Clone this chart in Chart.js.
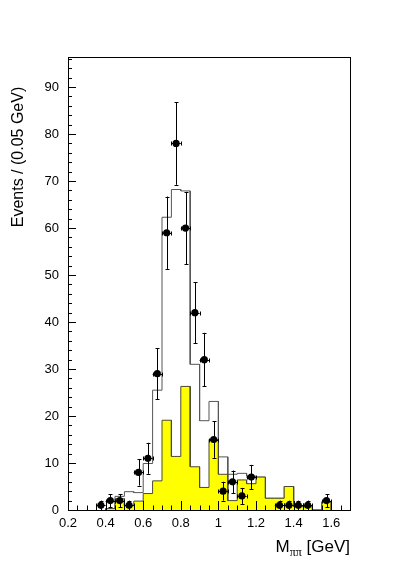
<!DOCTYPE html>
<html lang="en">
<head>
<meta charset="UTF-8">
<title>M(pipi) distribution</title>
<script src="https://cdn.jsdelivr.net/npm/chart.js"></script>
<style>
	html, body {
		margin: 0;
		padding: 0;
		background: #fff;
	}
	#wrap {
		position: relative;
		width: 397px;
		height: 567px;
	}
</style>
</head>
<body>
<div id="wrap"><canvas id="massChart" width="397" height="567"></canvas></div>

<script>
	// histogram bins (low edge, GeV), 0.05 GeV wide
	const binLow = [0.40, 0.45, 0.50, 0.55, 0.60, 0.65, 0.70, 0.75, 0.80, 0.85, 0.90, 0.95,
		1.00, 1.05, 1.10, 1.15, 1.20, 1.25, 1.30, 1.35, 1.40, 1.45, 1.50, 1.55];
	const binWidth = 0.05;

	// open histogram (total)
	const totalHist = [0.3, 2.9, 3.9, 3.7, 9.9, 25.5, 62.3, 68.2, 67.9, 31.0, 19.0, 23.1,
		11.3, 7.6, 7.8, 7.2, 7.0, 2.5, 2.5, 5.0, 0.7, 0.7, 0, 1.7];
	// yellow filled histogram
	const yellowHist = [0.3, 2.4, 0.9, 1.9, 3.5, 6.2, 19.1, 11.4, 26.3, 9.2, 4.8, 15.0,
		7.6, 2.0, 6.4, 5.6, 7.0, 2.5, 2.5, 5.0, 0.7, 0.7, 0, 1.7];

	// data points
	const dataX = [0.375, 0.425, 0.475, 0.525, 0.575, 0.625, 0.675, 0.725, 0.775, 0.825, 0.875,
		0.925, 0.975, 1.025, 1.075, 1.125, 1.175, 1.325, 1.375, 1.425, 1.475, 1.575];
	const dataY = [1, 2, 2, 1, 8, 11, 29, 59, 78, 60, 42, 32, 15, 4, 6, 3, 7, 1, 1, 1, 1, 2];
	const dataErr = [1, 1.4, 1.4, 1, 2.8, 3.3, 5.4, 7.7, 8.8, 7.7, 6.5, 5.7, 3.9, 2, 2.4, 1.7,
		2.6, 1, 1, 1, 1, 1.4];

	const xTicks = [0.2, 0.4, 0.6, 0.8, 1.0, 1.2, 1.4, 1.6];
	const yTicks = [0, 10, 20, 30, 40, 50, 60, 70, 80, 90];

	const FONT = "'Liberation Sans', Arial, sans-serif";

	// outline of a histogram as a list of corner points
	function histPoints(values) {
		const pts = [{x: binLow[0], y: 0}];
		values.forEach((v, i) => {
			pts.push({x: binLow[i], y: v});
			pts.push({x: binLow[i] + binWidth, y: v});
		});
		pts.push({x: binLow[binLow.length - 1] + binWidth, y: 0});
		return pts;
	}

	const points = dataX.map((x, i) => ({x: x, y: dataY[i]}));

	// frame + ROOT style inner ticks
	const framePlugin = {
		id: 'frame',
		afterDatasetsDraw(chart) {
			const {ctx, chartArea: a, scales: {x, y}} = chart;
			ctx.save();
			ctx.strokeStyle = '#000';
			ctx.lineWidth = 1;
			ctx.beginPath();
			// x ticks: minor every 0.05, major every 0.2
			for (let k = 0; k <= 30; k++) {
				const v = 0.2 + k * 0.05;
				const px = Math.round(x.getPixelForValue(v)) + 0.5;
				const len = (k % 4 === 0) ? 9 : 4.5;
				ctx.moveTo(px, a.bottom);
				ctx.lineTo(px, a.bottom - len);
			}
			// y ticks: minor every 2, major every 10
			for (let k = 0; k <= 48; k++) {
				const v = k * 2;
				const py = Math.round(y.getPixelForValue(v)) + 0.5;
				const len = (k % 5 === 0) ? 8 : 4;
				ctx.moveTo(a.left, py);
				ctx.lineTo(a.left + len, py);
			}
			ctx.stroke();
			ctx.strokeRect(Math.round(a.left) + 0.5, Math.round(a.top) + 0.5,
				Math.round(a.right - a.left), Math.round(a.bottom - a.top));
			ctx.restore();
		}
	};

	// error bars for the data points
	const errorBarPlugin = {
		id: 'errorBars',
		afterDatasetsDraw(chart) {
			const {ctx, scales: {x, y}} = chart;
			ctx.save();
			ctx.strokeStyle = '#000';
			ctx.lineWidth = 1;
			ctx.beginPath();
			dataX.forEach((xv, i) => {
				const px = Math.round(x.getPixelForValue(xv)) + 0.5;
				const py = Math.round(y.getPixelForValue(dataY[i])) + 0.5;
				const yTop = y.getPixelForValue(Math.min(dataY[i] + dataErr[i], y.max));
				const yBot = y.getPixelForValue(Math.max(dataY[i] - dataErr[i], 0));
				const xl = x.getPixelForValue(xv - binWidth / 2);
				const xr = x.getPixelForValue(xv + binWidth / 2);
				ctx.moveTo(px, yTop); ctx.lineTo(px, yBot);
				ctx.moveTo(px - 2, Math.round(yTop) + 0.5); ctx.lineTo(px + 2, Math.round(yTop) + 0.5);
				if (dataY[i] - dataErr[i] > 0) {
					ctx.moveTo(px - 2, Math.round(yBot) + 0.5); ctx.lineTo(px + 2, Math.round(yBot) + 0.5);
				}
				ctx.moveTo(xl, py); ctx.lineTo(xr, py);
				ctx.moveTo(Math.round(xl) + 0.5, py - 2); ctx.lineTo(Math.round(xl) + 0.5, py + 2);
				ctx.moveTo(Math.round(xr) + 0.5, py - 2); ctx.lineTo(Math.round(xr) + 0.5, py + 2);
			});
			ctx.stroke();
			ctx.restore();
		}
	};

	// axis titles
	const titlePlugin = {
		id: 'titles',
		afterDraw(chart) {
			const ctx = chart.ctx;
			ctx.save();
			ctx.fillStyle = '#000';
			// y title
			ctx.translate(23, 157);
			ctx.rotate(-Math.PI / 2);
			ctx.font = '16px ' + FONT;
			ctx.textAlign = 'center';
			ctx.textBaseline = 'alphabetic';
			ctx.fillText('Events / (0.05 GeV)', 0, 0);
			ctx.restore();

			// x title: M_ππ [GeV], right aligned to axis end
			ctx.save();
			ctx.fillStyle = '#000';
			ctx.textBaseline = 'alphabetic';
			const bigFont = '17px ' + FONT;
			const subFont = '12px "Liberation Serif", serif';
			ctx.font = bigFont;
			const wM = ctx.measureText('M').width;
			const wRest = ctx.measureText(' [GeV]').width;
			ctx.font = subFont;
			const wSub = ctx.measureText('ππ').width;
			let xPos = chart.chartArea.right - (wM + wSub + wRest);
			const base = 552;
			ctx.font = bigFont;
			ctx.fillText('M', xPos, base);
			xPos += wM;
			ctx.font = subFont;
			ctx.fillText('ππ', xPos, base + 4);
			xPos += wSub;
			ctx.font = bigFont;
			ctx.fillText(' [GeV]', xPos, base);
			ctx.restore();
		}
	};

	new Chart(document.getElementById('massChart'), {
		type: 'scatter',
		data: {
			datasets: [
				{
					label: 'Data',
					data: points,
					pointRadius: 3.6,
					pointHoverRadius: 3.6,
					backgroundColor: '#000',
					borderColor: '#000',
					borderWidth: 0,
					order: 0
				},
				{
					type: 'line',
					label: 'Yellow',
					data: histPoints(yellowHist),
					borderColor: '#4a4a30',
					borderWidth: 1,
					backgroundColor: '#ffff00',
					fill: 'origin',
					pointRadius: 0,
					tension: 0,
					order: 1
				},
				{
					type: 'line',
					label: 'Total',
					data: histPoints(totalHist),
					borderColor: '#555',
					borderWidth: 1,
					fill: false,
					pointRadius: 0,
					tension: 0,
					order: 2
				}
			]
		},
		options: {
			responsive: false,
			animation: false,
			events: [],
			layout: {padding: {top: 57, right: 47, left: 0, bottom: 0}},
			plugins: {legend: {display: false}, tooltip: {enabled: false}},
			scales: {
				x: {
					type: 'linear',
					min: 0.2,
					max: 1.7,
					grid: {display: false, drawTicks: false},
					border: {display: false},
					afterBuildTicks: s => { s.ticks = xTicks.map(v => ({value: v})); },
					afterFit: s => { s.height = 57; },
					ticks: {
						autoSkip: false,
						maxRotation: 0,
						padding: 6,
						color: '#000',
						font: {family: FONT, size: 13},
						callback: v => Number(v.toFixed(1)).toString()
					}
				},
				y: {
					type: 'linear',
					min: 0,
					max: 96.4,
					grid: {display: false, drawTicks: false},
					border: {display: false},
					afterBuildTicks: s => { s.ticks = yTicks.map(v => ({value: v})); },
					afterFit: s => { s.width = 68; },
					ticks: {
						padding: 9,
						color: '#000',
						font: {family: FONT, size: 13},
						callback: v => String(v)
					}
				}
			}
		},
		plugins: [framePlugin, errorBarPlugin, titlePlugin]
	});
</script>
</body>
</html>
